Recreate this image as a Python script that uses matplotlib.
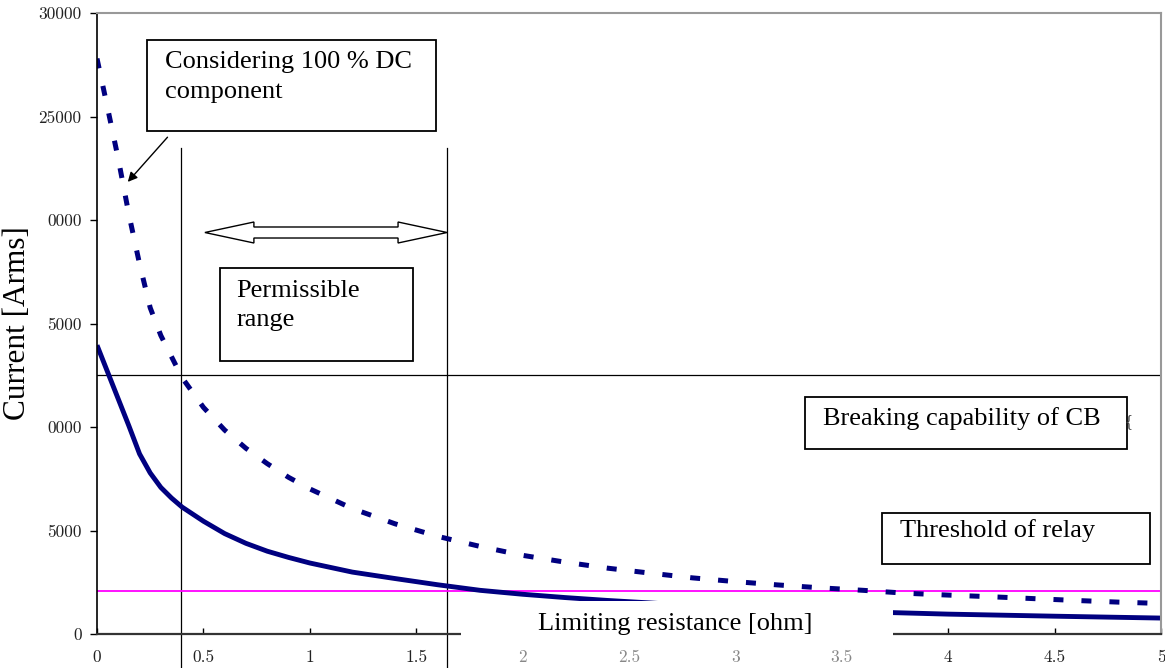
import matplotlib
matplotlib.use('Agg')
import matplotlib.pyplot as plt
from matplotlib.patches import Rectangle, Polygon

# ---- data ----
resistance_sym = [0, 0.1, 0.15, 0.2, 0.25, 0.3, 0.35, 0.4, 0.5, 0.6, 0.7, 0.8, 0.9, 1.0,
                  1.2, 1.4, 1.6, 1.8, 2.0, 2.2, 2.4, 2.6, 2.8, 3.0, 3.5, 4.0, 4.5, 5.0]
current_sym = [13950, 11350, 10050, 8700, 7780, 7080, 6570, 6130, 5450, 4850, 4380, 4000,
               3700, 3430, 2990, 2680, 2380, 2110, 1920, 1760, 1620, 1500, 1370, 1280,
               1100, 960, 860, 770]

resistance_dc = [0, 0.05, 0.1, 0.15, 0.2, 0.25, 0.3, 0.4, 0.5, 0.6, 0.7, 0.8, 0.9, 1.0,
                 1.2, 1.4, 1.6, 1.8, 2.0, 2.2, 2.4, 2.6, 2.8, 3.0, 3.2, 3.4, 3.6, 3.8,
                 4.0, 4.2, 4.4, 4.6, 4.8, 5.0]
current_dc = [27800, 25400, 22950, 20260, 17880, 15760, 14420, 12380, 10950, 9850, 8970,
              8230, 7570, 7010, 6060, 5325, 4720, 4230, 3800, 3470, 3180, 2940, 2710,
              2530, 2370, 2230, 2110, 1970, 1880, 1800, 1710, 1620, 1540, 1475]

cb_capability = 12500
relay_threshold = 2100
permissible_range = [0.395, 1.645]

x_ticks = [0, 0.5, 1, 1.5, 2, 2.5, 3, 3.5, 4, 4.5, 5]
x_tick_labels = ['0', '0.5', '1', '1.5', '2', '2.5', '3', '3.5', '4', '4.5', '5']
y_ticks = [0, 5000, 10000, 15000, 20000, 25000, 30000]
y_tick_labels = ['0', '5000', '0000', '5000', '0000', '25000', '30000']

SERIF = 'Liberation Serif'
TICKFONT = 'cmr10'
NAVY = '#000080'

fig = plt.figure(figsize=(11.65, 6.68), dpi=100)
ax = fig.add_axes([97 / 1165, 34 / 668, 1064 / 1165, 621 / 668])
ax.set_xlim(0, 5)
ax.set_ylim(0, 30000)

# curves
ax.plot(resistance_sym, current_sym, color=NAVY, lw=3.5, solid_capstyle='butt',
        solid_joinstyle='round', zorder=2)
dc_line, = ax.plot(resistance_dc, current_dc, color=NAVY, lw=3.6, zorder=2)
dc_line.set_dashes((2.0, 3.6))
dc_line.set_dash_capstyle('butt')

# reference lines
ax.axhline(cb_capability, color='black', lw=0.9, zorder=1.5)
ax.axhline(relay_threshold, color='#ff00ff', lw=1.3, zorder=1.6)
for xv in permissible_range:
    ax.plot([xv, xv], [23460, -1700], color='black', lw=0.9, clip_on=False, zorder=1.5)

# spines
ax.spines['left'].set_color('black')
ax.spines['left'].set_linewidth(1.2)
ax.spines['bottom'].set_color('#333333')
ax.spines['bottom'].set_linewidth(1.6)
for s in ('top', 'right'):
    ax.spines[s].set_color('#999999')
    ax.spines[s].set_linewidth(1.5)

ax.set_xticks(x_ticks)
ax.set_xticklabels(x_tick_labels)
ax.set_yticks(y_ticks)
ax.set_yticklabels(y_tick_labels)
ax.tick_params(axis='y', direction='out', length=5, width=1, pad=6, labelsize=12.5)
ax.tick_params(axis='x', direction='in', length=4, width=1, pad=11, labelsize=12.5)
for lab in ax.get_xticklabels() + ax.get_yticklabels():
    lab.set_fontfamily(TICKFONT)
    lab.set_color('#222222')
for lab in ax.get_xticklabels():
    if lab.get_text() in ('2', '2.5', '3', '3.5'):
        lab.set_color('#888888')

# white patch covering part of the x axis, with the axis title
ax.add_patch(Rectangle((1.711, -400), 3.741 - 1.711, 2000, facecolor='white',
                       edgecolor='none', clip_on=False, zorder=3))
ax.text(2.072, 193, 'Limiting resistance [ohm]', family=SERIF, fontsize=19,
        va='baseline', ha='left', zorder=4)

# y label
fig.text(18 / 1165, 1 - 323.5 / 668, 'Current [Arms]', family=SERIF, fontsize=22.5,
         rotation=90, ha='center', va='center')


def box(x0, x1, y0, y1):
    ax.add_patch(Rectangle((x0, y0), x1 - x0, y1 - y0, facecolor='white',
                           edgecolor='black', lw=1.3, clip_on=False, zorder=5))


box(0.235, 1.593, 24300, 28696)
ax.text(0.3195, 27329, 'Considering 100 % DC', family=SERIF, fontsize=19, va='baseline', zorder=6)
ax.text(0.3195, 25879, 'component', family=SERIF, fontsize=19, va='baseline', zorder=6)

box(0.578, 1.485, 13188, 17681)
ax.text(0.656, 16295, 'Permissible', family=SERIF, fontsize=19, va='baseline', zorder=6)
ax.text(0.656, 14879, 'range', family=SERIF, fontsize=19, va='baseline', zorder=6)

box(3.327, 4.840, 8937, 11449)
ax.text(3.412, 10097, 'Breaking capability of CB', family=SERIF, fontsize=19,
        va='baseline', zorder=6)
ax.text(4.83, 10050, '{', family=SERIF, fontsize=12, va='baseline', color='#444444', zorder=6)

box(3.689, 4.948, 3382, 5845)
ax.text(3.774, 4700, 'Threshold of relay', family=SERIF, fontsize=19, va='baseline', zorder=6)

# annotation arrow
ax.annotate('', xy=(0.136, 21740), xytext=(0.34, 24100),
            arrowprops=dict(arrowstyle='-|>', color='black', lw=1.0, mutation_scale=14),
            zorder=6)

# hollow double arrow for the permissible range
xa, xb = 0.507, 1.645
yc = 19396
hl, hw, sw = 0.2303, 507, 266
pts = [(xa, yc), (xa + hl, yc + hw), (xa + hl, yc + sw), (xb - hl, yc + sw),
       (xb - hl, yc + hw), (xb, yc), (xb - hl, yc - hw), (xb - hl, yc - sw),
       (xa + hl, yc - sw), (xa + hl, yc - hw)]
ax.add_patch(Polygon(pts, closed=True, facecolor='white', edgecolor='black', lw=1.0,
                     zorder=6))

fig.savefig('out.png', dpi=100)
